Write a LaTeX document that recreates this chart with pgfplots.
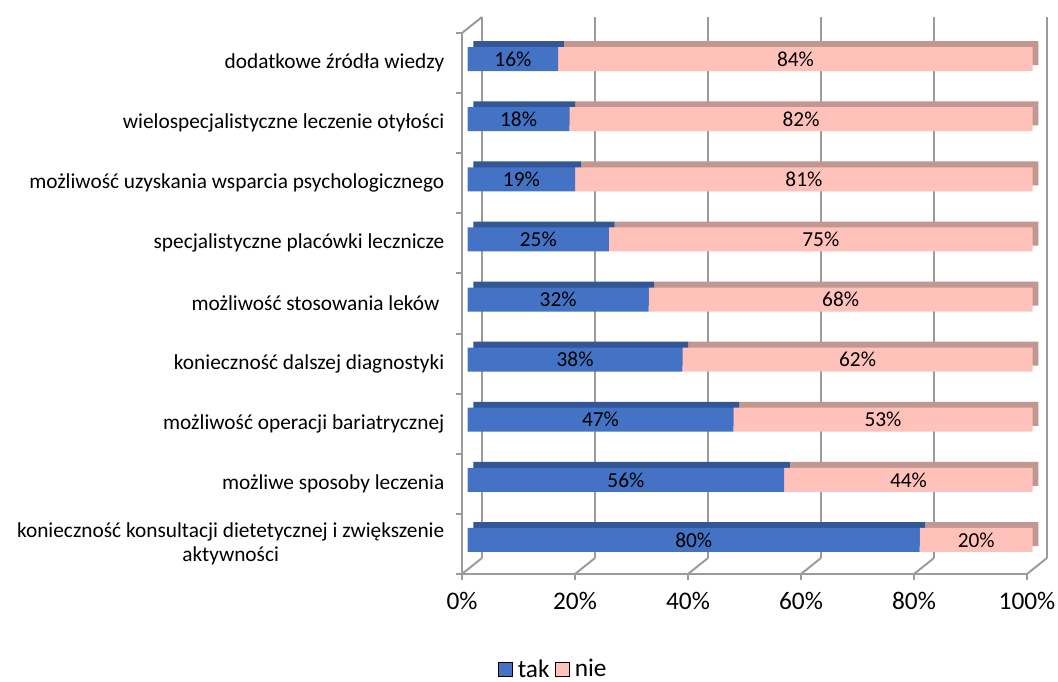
\documentclass[border=0pt]{standalone}
\usepackage{pgfplots}
\usepackage{pgfplotstable}
\pgfplotsset{compat=1.18}
\usepackage{fontspec}
\setmainfont{Carlito}

\definecolor{takfront}{RGB}{68,114,196}
\definecolor{takback}{RGB}{50,86,150}
\definecolor{niefront}{RGB}{255,194,186}
\definecolor{nieback}{RGB}{194,150,145}
\definecolor{wallgray}{RGB}{155,155,155}

% shares of answers: tak / nie, index 0 = bottom row
\pgfplotstableread{
idx tak nie
0 80 20
1 56 44
2 47 53
3 38 62
4 32 68
5 25 75
6 19 81
7 18 82
8 16 84
}\answers

\pgfplotsset{
  plane/.style={
    scale only axis, width=423.75pt, height=405.75pt,
    xmin=0, xmax=100, ymin=-0.5, ymax=8.5,
    anchor=south west,
    /pgf/number format/assume math mode=true,
  },
  bars/.style={
    plane, hide axis, clip=false,
    xbar stacked, bar width=18pt,
  },
}

\begin{document}
\begin{tikzpicture}
\useasboundingbox (0,0) rectangle (793.5pt,511.5pt);

% walls, floor, ticks, labels and legend
\begin{axis}[plane, at={(346.5pt,81pt)}, clip=false,
  axis lines*=left,
  axis line style={draw=wallgray, line width=1.5pt},
  tick align=outside,
  major tick length=4.5pt,
  tick style={draw=wallgray, line width=1.5pt},
  xtick={0,20,...,100},
  xticklabel={\pgfmathprintnumber{\tick}\%},
  xticklabel style={font=\fontsize{19}{22}\selectfont, yshift=-5.5pt},
  ytick={-0.5,0.5,...,8.5},
  yticklabels={},
  extra y ticks={0,1,...,8},
  extra y tick labels={{konieczność konsultacji dietetycznej i zwiększenie\\aktywności},
    możliwe sposoby leczenia,
    możliwość operacji bariatrycznej,
    konieczność dalszej diagnostyki,
    możliwość stosowania leków\ ,
    specjalistyczne placówki lecznicze,
    możliwość uzyskania wsparcia psychologicznego,
    wielospecjalistyczne leczenie otyłości,
    dodatkowe źródła wiedzy},
  extra y tick style={major tick length=0pt,
    yticklabel style={font=\fontsize{16}{18.5}\selectfont, align=center, xshift=-9.75pt}},
  xmajorgrids,
  major grid style={draw=wallgray, line width=1.5pt, xshift=15pt, yshift=12pt},
  legend style={at={(0.162,-0.176)}, anchor=center, draw=none,
    font=\fontsize{19}{22}\selectfont, legend columns=2,
    nodes={inner ysep=0pt},
    /tikz/every odd column/.append style={column sep=2pt},
    /tikz/every even column/.append style={column sep=2pt}},
  legend image code/.code={\fill[#1] (0pt,-5.5pt) rectangle (10.5pt,5pt);},
]
\addlegendimage{fill=takfront}
\addlegendentry{tak}
\addlegendimage{fill=niefront}
\addlegendentry{nie}
% floor edges and the upper edge of the side wall
\pgfplotsinvokeforeach{0,20,40,60,80,100}{
  \draw[wallgray, line width=1.5pt] (axis cs:#1,-0.5) -- ++(15pt,12pt);
}
\draw[wallgray, line width=1.5pt] (axis cs:0,8.5) -- ++(15pt,12pt);
\end{axis}

% depth of the bars (top faces)
\begin{axis}[bars, at={(355.1pt,88.4pt)}]
\addplot[fill=takback, draw=none] table[x=tak, y=idx] {\answers};
\addplot[fill=nieback, draw=none] table[x=nie, y=idx] {\answers};
\end{axis}

% front faces
\begin{axis}[bars, at={(350.8pt,84pt)}]
\addplot[fill=takfront, draw=none] table[x=tak, y=idx] {\answers};
\addplot[fill=niefront, draw=none] table[x=nie, y=idx] {\answers};
\end{axis}

% values, centred in their segments
\begin{axis}[plane, hide axis, clip=false, at={(350.8pt,84pt)},
  point meta=explicit,
  nodes near coords={\pgfmathprintnumber{\pgfplotspointmeta}\%},
  every node near coord/.append style={font=\fontsize{16}{19}\selectfont,
    text=black, anchor=center},
]
\addplot[only marks, mark=none]
  table[x expr=\thisrow{tak}/2, y=idx, meta=tak] {\answers};
\addplot[only marks, mark=none]
  table[x expr=\thisrow{tak}+\thisrow{nie}/2, y=idx, meta=nie] {\answers};
\end{axis}
\end{tikzpicture}
\end{document}
